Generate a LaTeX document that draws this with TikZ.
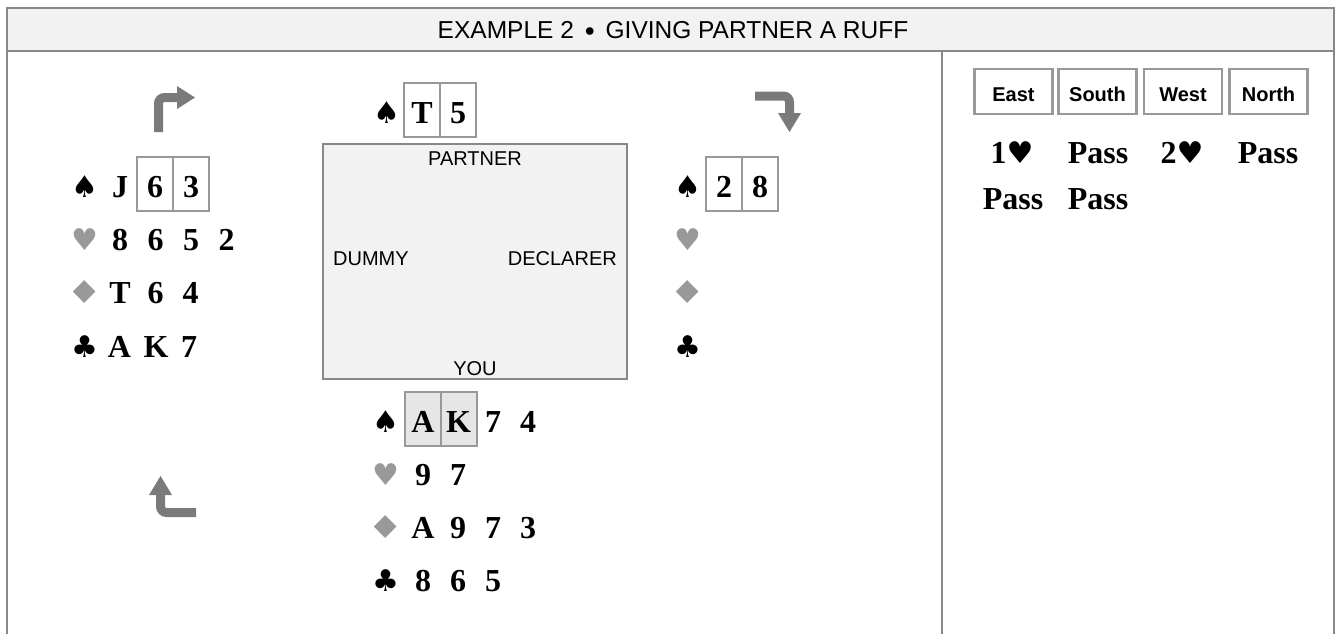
\documentclass[tikz,border=0pt]{standalone}
\usepackage{fontspec}
\setmainfont{Liberation Serif}
\newfontfamily\arialf{Liberation Sans}
\newfontfamily\timesf{Liberation Serif}
\newfontfamily\symf{DejaVu Sans}
\definecolor{frameg}{HTML}{888888}
\definecolor{arrowg}{HTML}{7A7A7A}
\definecolor{suitg}{HTML}{999999}
\definecolor{boxg}{HTML}{999999}
\definecolor{headfill}{HTML}{F2F2F2}
\definecolor{southfill}{HTML}{E6E6E6}
\newcommand{\bigsuit}[1]{{\symf\fontsize{30}{30}\selectfont #1}}
\newcommand{\widediam}{\scalebox{1.35}[1.05]{♦}}
\tikzset{
  cardtxt/.style={font=\timesf\bfseries\fontsize{32}{32}\selectfont, anchor=base, inner sep=0pt},
  suitblack/.style={font=\symf\fontsize{30}{30}\selectfont, anchor=base, inner sep=0pt},
  suitgray/.style={suitblack, text=suitg},
  cardbox/.style={draw=boxg, line width=2pt, minimum width=36pt, minimum height=54pt, inner sep=0pt,
    text height=26pt, text depth=0pt, font=\timesf\bfseries\fontsize{32}{32}\selectfont},
  playedbox/.style={cardbox, fill=southfill},
  tablelbl/.style={font=\arialf\fontsize{20}{20}\selectfont, inner sep=0pt},
  bidhead/.style={draw=boxg, line width=2.5pt, minimum width=78pt, minimum height=45pt, inner sep=0pt,
    text height=20pt, text depth=0pt, font=\arialf\bfseries\fontsize{20}{20}\selectfont},
  bidtxt/.style={cardtxt},
  arrowbar/.style={draw=arrowg, line width=9pt, rounded corners=6pt},
  arrowhead/.style={fill=arrowg},
  frameline/.style={draw=frameg, line width=2pt}
}
\begin{document}
\begin{tikzpicture}[x=1pt,y=-1pt]
\useasboundingbox (0,0) rectangle (1341,633);
% frame
\fill[headfill] (7,8) rectangle (1334,51);
\draw[frameline] (7,640) -- (7,8) -- (1334,8) -- (1334,640);
\draw[frameline] (7,51) -- (1334,51);
\draw[frameline] (942,51) -- (942,640);
\node[font=\arialf\fontsize{24.5}{24.5}\selectfont, anchor=base, inner sep=0pt] (title) at (673,38.5)
  {EXAMPLE 2 \,\raisebox{0.1em}{\scalebox{0.8}{$\bullet$}}\, GIVING PARTNER A RUFF};

% arrows
\draw[arrowbar] (158.5,132) -- (158.5,97.5) -- (178,97.5);
\fill[arrowhead] (177,86) -- (195,97.5) -- (177,109) -- cycle;
\draw[arrowbar] (755,96) -- (789.5,96) -- (789.5,114);
\fill[arrowhead] (778,113) -- (801,113) -- (789.5,132) -- cycle;
\draw[arrowbar] (196,512.5) -- (160.5,512.5) -- (160.5,494);
\fill[arrowhead] (149,495) -- (172,495) -- (160.5,476) -- cycle;

% table
\node[draw=frameg, line width=2pt, fill=headfill, minimum width=304pt, minimum height=235pt, inner sep=0pt] (table) at (475,261.5) {};
\node[tablelbl, anchor=base] (partner) at (475,165) {PARTNER};
\node[tablelbl, anchor=base west] (dummy) at (333,265) {DUMMY};
\node[tablelbl, anchor=base east] (declarer) at (617,265) {DECLARER};
\node[tablelbl, anchor=base] (you) at (475,375) {YOU};

% West hand
\node[suitblack] (wS) at (85,197) {♠};
\node[cardtxt] (wSJ) at (120,197) {J};
\node[cardbox] (wS6) at (155,184) {6};
\node[cardbox] (wS3) at (191,184) {3};
\node[suitgray] (wH) at (85,250) {♥};
\foreach \c/\x [count=\i] in {8/120,6/155.5,5/191,2/226.5} \node[cardtxt] (wH\i) at (\x,250) {\c};
\node[suitgray] (wD) at (85,303) {\widediam};
\foreach \c/\x [count=\i] in {T/120,6/155.5,4/190.5} \node[cardtxt] (wD\i) at (\x,303) {\c};
\node[suitblack] (wC) at (85,357) {♣};
\foreach \c/\x [count=\i] in {A/119.5,K/156,7/189} \node[cardtxt] (wC\i) at (\x,357) {\c};

% North hand
\node[suitblack] (nS) at (386.5,123) {♠};
\node[cardbox] (nST) at (422,110) {T};
\node[cardbox] (nS5) at (458,110) {5};

% East hand
\node[suitblack] (eS) at (688,197) {♠};
\node[cardbox] (eS2) at (724,184) {2};
\node[cardbox] (eS8) at (760,184) {8};
\node[suitgray] (eH) at (688,250) {♥};
\node[suitgray] (eD) at (688,303) {\widediam};
\node[suitblack] (eC) at (688,357) {♣};

% South hand
\node[suitblack] (sS) at (386,432) {♠};
\node[playedbox] (sSA) at (423,419) {A};
\node[playedbox] (sSK) at (458.5,419) {K};
\node[cardtxt] (sS7) at (493,432) {7};
\node[cardtxt] (sS4) at (528,432) {4};
\node[suitgray] (sH) at (386,485) {♥};
\foreach \c/\x [count=\i] in {9/423,7/458} \node[cardtxt] (sH\i) at (\x,485) {\c};
\node[suitgray] (sD) at (386,538) {\widediam};
\foreach \c/\x [count=\i] in {A/423,9/458,7/493,3/528} \node[cardtxt] (sD\i) at (\x,538) {\c};
\node[suitblack] (sC) at (386,591) {♣};
\foreach \c/\x [count=\i] in {8/423,6/458,5/493} \node[cardtxt] (sC\i) at (\x,591) {\c};

% Bidding
\node[bidhead] (hE) at (1013.5,91.5) {East};
\node[bidhead] (hS) at (1097.5,91.5) {South};
\node[bidhead] (hW) at (1183,91.5) {West};
\node[bidhead] (hN) at (1268.5,91.5) {North};
\node[bidtxt] (b1) at (1012,163) {1\bigsuit{♥}};
\node[bidtxt] (b2) at (1098,163) {Pass};
\node[bidtxt] (b3) at (1182,163) {2\bigsuit{♥}};
\node[bidtxt] (b4) at (1268,163) {Pass};
\node[bidtxt] (b5) at (1013,209) {Pass};
\node[bidtxt] (b6) at (1098,209) {Pass};
\end{tikzpicture}
\end{document}
